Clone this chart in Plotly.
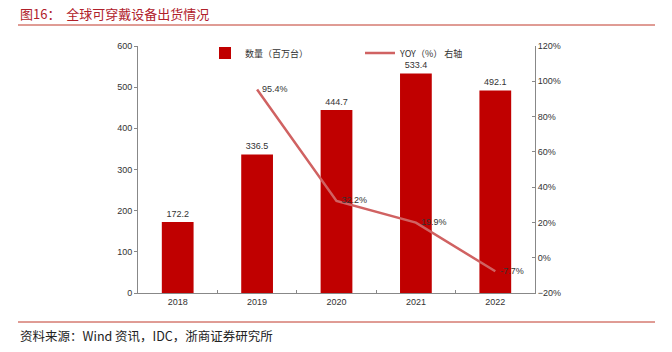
import plotly.graph_objects as go

years = ["2018", "2019", "2020", "2021", "2022"]
shipments = [172.2, 336.5, 444.7, 533.4, 492.1]
yoy_years = ["2019", "2020", "2021", "2022"]
yoy = [95.4, 32.2, 19.9, -7.7]

W, H = 672, 352
x0, x1 = 138, 535
y_top, y_bot = 46, 293

fig = go.Figure()
fig.add_trace(go.Bar(
    x=years, y=shipments, name="数量（百万台）",
    marker=dict(color="#C00000", line=dict(width=0)),
    width=0.4,
    text=[f"{v:.1f}" for v in shipments], textposition="outside",
    textfont=dict(size=9, color="#333333", family="Liberation Sans, Arial"),
    cliponaxis=False,
))
fig.add_trace(go.Scatter(
    x=yoy_years, y=yoy, name="YOY（%） 右轴", yaxis="y2",
    mode="lines+text", line=dict(color="#D06262", width=2.5),
    text=[f"  {v:.1f}%" for v in yoy], textposition="middle right",
    textfont=dict(size=9, color="#333333", family="Liberation Sans, Arial"),
    cliponaxis=False,
))

axis_font = dict(size=9, color="#333333", family="Liberation Sans, Arial")
fig.update_layout(
    width=W, height=H, margin=dict(l=0, r=0, t=0, b=0, pad=0, autoexpand=False),
    paper_bgcolor="white", plot_bgcolor="white",
    showlegend=True,
    legend=dict(orientation="h", x=205 / W, y=1 - 53 / H, xanchor="left", yanchor="middle",
                font=dict(size=9, color="#333333", family="Noto Sans CJK SC"),
                entrywidth=110, entrywidthmode="pixels", itemwidth=30,
                bgcolor="rgba(0,0,0,0)"),
    bargap=0.6,
    xaxis=dict(domain=[x0 / W, x1 / W], type="category", automargin=False,
               showline=True, linecolor="#888888", linewidth=1,
               ticks="inside", tickson="boundaries", ticklen=3, tickcolor="#888888",
               tickfont=axis_font, showgrid=False, zeroline=False),
    yaxis=dict(domain=[1 - y_bot / H, 1 - y_top / H], range=[0, 600], dtick=100,
               automargin=False,
               showline=True, linecolor="#888888", linewidth=1,
               ticks="outside", ticklen=3, tickcolor="#888888",
               tickfont=axis_font, showgrid=False, zeroline=False),
    yaxis2=dict(overlaying="y", side="right", anchor="x", range=[-20, 120], dtick=20,
                automargin=False,
                ticksuffix="%", showline=True, linecolor="#888888", linewidth=1,
                ticks="inside", ticklen=3, tickcolor="#888888",
                tickfont=axis_font, showgrid=False, zeroline=False),
    font=dict(family="Noto Sans CJK SC"),
)

fig.add_annotation(xref="paper", yref="paper", x=18 / W, y=1 - 13 / H,
                   xanchor="left", yanchor="middle", showarrow=False,
                   text="图16：  全球可穿戴设备出货情况",
                   font=dict(size=13, color="#B0202A", family="Noto Sans CJK SC"))
fig.add_annotation(xref="paper", yref="paper", x=18 / W, y=1 - 335 / H,
                   xanchor="left", yanchor="middle", showarrow=False,
                   text="资料来源：Wind 资讯，IDC，浙商证券研究所",
                   font=dict(size=12.5, color="#222222", family="Noto Sans CJK SC"))
fig.add_shape(type="line", xref="paper", yref="paper",
              x0=18 / W, x1=655 / W, y0=1 - 25 / H, y1=1 - 25 / H,
              line=dict(color="#C0392B", width=1))
fig.add_shape(type="line", xref="paper", yref="paper",
              x0=18 / W, x1=655 / W, y0=1 - 322 / H, y1=1 - 322 / H,
              line=dict(color="#C0392B", width=1))

fig.write_html("out.html")
